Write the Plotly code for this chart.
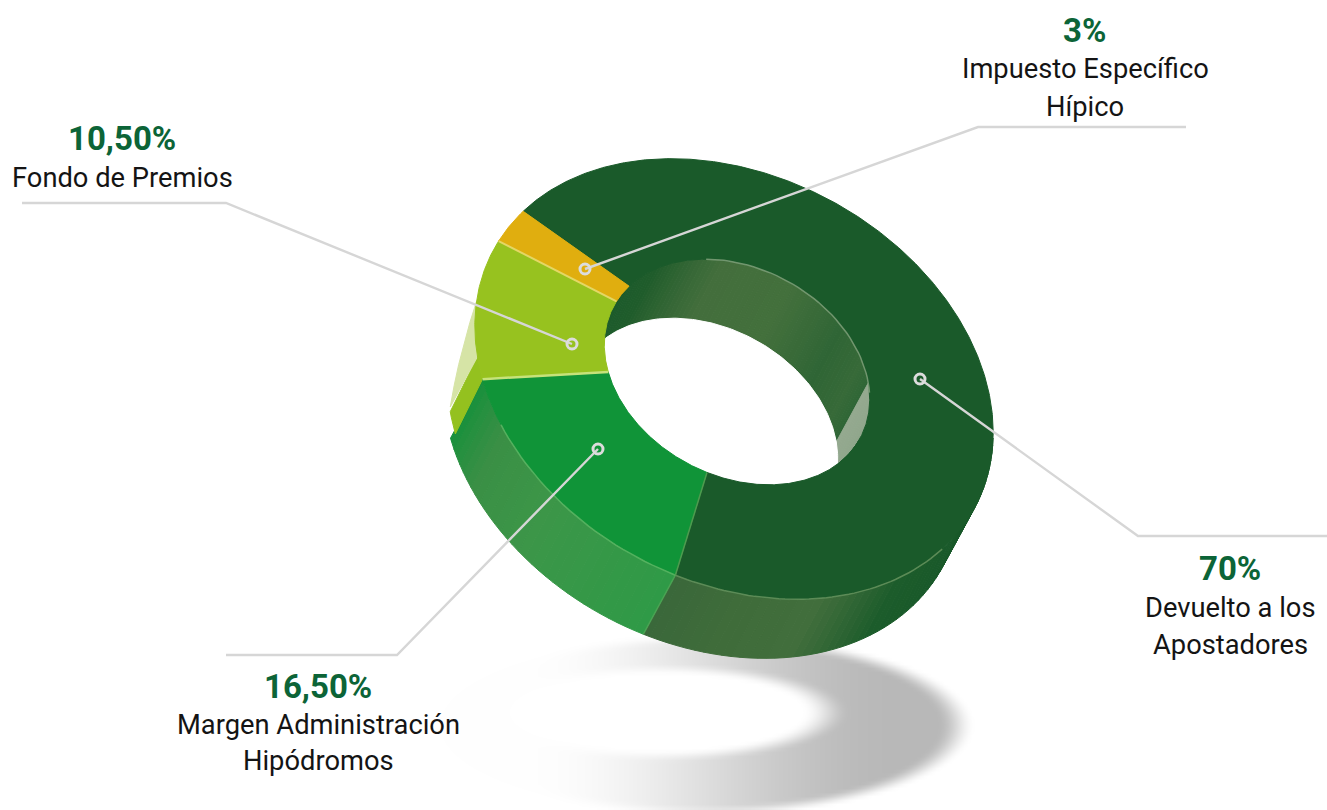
import numpy as np
import plotly.graph_objects as go

# ---- data ----
categories = ["Devuelto a los Apostadores", "Margen Administración Hipódromos",
              "Fondo de Premios", "Impuesto Específico Hípico"]
shares = [70, 16.5, 10.5, 3]
percent_labels = ["70%", "16,50%", "10,50%", "3%"]
label_lines = [["Devuelto a los", "Apostadores"], ["Margen Administración", "Hipódromos"],
               ["Fondo de Premios"], ["Impuesto Específico", "Hípico"]]
top_colors = ["#1a5a2a", "#109438", "#97c21f", "#e0ae0f"]

# ---- projection of the tilted ring onto the page ----
W, H = 1327, 810
CX, CY = 734, 379
A, B, PHI = 273, 203, np.radians(28)
ICX, ICY, IR = 737, 372, 0.512
DX, DY = -32, 59
START = -167.0
U = np.array([np.cos(PHI), np.sin(PHI)])
V = np.array([-np.sin(PHI), np.cos(PHI)])

def outer(t):
    t = np.radians(np.asarray(t, float))
    return (CX + A*np.cos(t)*U[0] + B*np.sin(t)*V[0], CY + A*np.cos(t)*U[1] + B*np.sin(t)*V[1])

def inner(t):
    t = np.radians(np.asarray(t, float))
    return (ICX + IR*A*np.cos(t)*U[0] + IR*B*np.sin(t)*V[0], ICY + IR*A*np.cos(t)*U[1] + IR*B*np.sin(t)*V[1])

def hexrgb(c):
    return [int(c[i:i+2], 16) for i in (1, 3, 5)]

def shade(t, stops):
    ts = [s[0] for s in stops]
    cs = np.array([hexrgb(s[1]) for s in stops], float)
    return "rgb(%d,%d,%d)" % tuple(np.round(np.interp(t, ts, cs[:, k])) for k in range(3))

# share boundaries, with a small foreshortening correction for the view's perspective
raw_edges = START + np.cumsum([0] + [s*3.6 for s in shares])
edges = raw_edges + np.interp(raw_edges, [-167, 85, 144.4, 182.2, 193], [1, -3.5, 0, 1, 1])
e_dark, e_green, e_lime, e_yellow = edges[1], edges[2], edges[3], edges[4]

fig = go.Figure()

def poly(x, y, color):
    x, y = list(x), list(y)
    fig.add_trace(go.Scatter(x=x+x[:1], y=y+y[:1], mode="lines", fill="toself", fillcolor=color,
                             line=dict(color=color, width=1), hoverinfo="skip", showlegend=False))

def stroke(x, y, color, width):
    fig.add_trace(go.Scatter(x=list(x), y=list(y), mode="lines", line=dict(color=color, width=width),
                             hoverinfo="skip", showlegend=False))

# ---- soft shadow ----
gx = np.arange(420, 1000, 4.0)
gy = np.arange(620, 811, 4.0)
XX, YY = np.meshgrid(gx, gy)
def smooth(v, a, b):
    s = np.clip((v-a)/(b-a), 0, 1)
    return s*s*(3-2*s)
ro = np.sqrt(((XX-700)/270)**2 + ((YY-725)/90)**2)
ri = np.sqrt(((XX-665)/148)**2 + ((YY-712)/40)**2)
ring = (1-smooth(ro, 0.88, 1.02)) * smooth(ri, 0.92, 1.25)
ramp = 0.02 + 0.98*smooth(XX, 530, 900)
fig.add_trace(go.Heatmap(x=gx, y=gy, z=ring*ramp, zmin=0, zmax=1, zsmooth="best", showscale=False,
                         colorscale=[[0, "#ffffff"], [1, "#b8b8b8"]], hoverinfo="skip"))

# ---- outer side ----
dark_side = [(-20, "#145427"), (28, "#1c5c2b"), (48, "#416e3c"), (65, "#3f6c3a"), (86, "#38663a")]
green_side = [(e_dark, "#2f9a47"), (112, "#3c9648"), (130, "#3a8f45"), (e_green, "#15903b")]
STEP = 2.0
for t in np.arange(-20, e_dark, STEP):
    x, y = outer([t, min(t+STEP, e_dark)])
    poly([x[0], x[1], x[1]+DX, x[0]+DX], [y[0], y[1], y[1]+DY, y[0]+DY], shade(t, dark_side))
for t in np.arange(e_dark, e_green, STEP):
    x, y = outer([t, min(t+STEP, e_green)])
    poly([x[0], x[1], x[1]+DX, x[0]+DX], [y[0], y[1], y[1]+DY, y[0]+DY], shade(t, green_side))
# lime side: solid band, then a pale panel that tapers away
cut = e_green + 0.15*(e_lime-e_green)
end = e_green + 0.53*(e_lime-e_green)
tt = np.linspace(e_green, cut, 5)
x, y = outer(tt)
poly(list(x)+list(x[::-1]+0.85*DX), list(y)+list(y[::-1]+0.93*DY), "#94c11f")
tt = np.linspace(cut, end, 6)
k = np.linspace(0.85, 0, 6)
x, y = outer(tt)
poly(list(x)+list((x+k*DX)[::-1]), list(y)+list((y+k*DY)[::-1]), "#d6e4a6")

# ---- inner wall ----
wall = [(-180, "#1a5a2a"), (-150, "#1f5c2b"), (-118, "#436e3c"), (-88, "#43703c"), (-60, "#2f6535"),
        (-42, "#376a38"), (-32, "#2f6636"), (-30, "#94a98f"), (0, "#8ea58a"), (2, "#1a5a2a"), (180, "#1a5a2a")]
for t in np.arange(-180, 180, STEP):
    x, y = inner([t, t+STEP])
    poly([x[0], x[1], x[1]+DX, x[0]+DX], [y[0], y[1], y[1]+DY, y[0]+DY], shade(t, wall))

# ---- see-through part of the hole ----
tt = np.arange(0, 360, 1.0)
hx, hy = inner(tt)
def inside(px, py, ox, oy):
    rx, ry = px-ICX-ox, py-ICY-oy
    return ((rx*U[0]+ry*U[1])/(IR*A))**2 + ((rx*V[0]+ry*V[1])/(IR*B))**2 <= 1
m1 = inside(hx, hy, DX, DY)
m2 = inside(hx+DX, hy+DY, 0, 0)
px = np.r_[hx[m1], (hx+DX)[m2]]
py = np.r_[hy[m1], (hy+DY)[m2]]
order = np.argsort(np.arctan2(py-py.mean(), px-px.mean()))
poly(px[order], py[order], "#ffffff")

# ---- top faces ----
for c, a, b in zip(top_colors, edges[:-1], edges[1:]):
    tt = np.linspace(a, b, int((b-a)*2)+2)
    ox, oy = outer(tt)
    ix, iy = inner(tt[::-1])
    poly(np.r_[ox, ix], np.r_[oy, iy], c)

# ---- rim highlights and seams ----
x, y = outer(np.linspace(15, e_dark, 50)); stroke(x, y, "rgba(120,160,105,0.7)", 1.5)
x, y = outer(np.linspace(e_dark, e_green-12, 30)); stroke(x, y, "rgba(110,190,110,0.7)", 1.5)
x, y = inner(np.linspace(-125, -25, 40)); stroke(x, y, "rgba(150,175,140,0.7)", 1.5)
def seam(t, color, width):
    ox, oy = outer(t); ix, iy = inner(t)
    stroke([ox, ix], [oy, iy], color, width)
seam(e_dark, "#4f9a4f", 1.5)
seam(e_green, "#c6e27a", 2.5)
seam(e_lime, "#e3d765", 2)
ox, oy = outer(e_dark)
stroke([ox, ox+DX], [oy, oy+DY], "rgba(90,170,90,0.6)", 1.5)

# ---- leader lines ----
leaders = [([920, 1138, 1327], [379, 536, 536]), ([598, 397, 226], [449, 655, 655]),
           ([572, 226, 22], [344, 203, 203]), ([585, 978, 1186], [269, 127, 127])]
for lx, ly in leaders:
    stroke(lx, ly, "#d6d6d6", 2.4)
    fig.add_trace(go.Scatter(x=lx[:1], y=ly[:1], mode="markers", hoverinfo="skip", showlegend=False,
                             marker=dict(size=10, color="rgba(255,255,255,0)", line=dict(color="#dcdcdc", width=3))))

# ---- labels ----
PCT = dict(family="Roboto", size=33, color="#0c6437", weight=700)
TXT = dict(family="Roboto", size=27.3, color="#141414")
pct_pos = [(1230, 568), (318, 686), (122, 138), (1084, 30)]
line_pos = [[(1230, 608), (1230, 645)], [(318, 725), (318, 761)], [(122, 178)], [(1085, 69), (1085, 107)]]
ann = []
for p, pos, lines, lpos in zip(percent_labels, pct_pos, label_lines, line_pos):
    ann.append(dict(x=pos[0], y=pos[1], text=p, font=PCT, showarrow=False, xanchor="center", yanchor="middle"))
    for s, q in zip(lines, lpos):
        ann.append(dict(x=q[0], y=q[1], text=s, font=TXT, showarrow=False, xanchor="center", yanchor="middle"))

fig.update_layout(width=W, height=H, margin=dict(l=0, r=0, t=0, b=0), showlegend=False,
                  paper_bgcolor="white", plot_bgcolor="white", annotations=ann,
                  xaxis=dict(range=[0, W], visible=False, fixedrange=True),
                  yaxis=dict(range=[H, 0], visible=False, fixedrange=True))
fig.write_html("out.html", config=dict(displayModeBar=False),
               post_script="document.body.style.margin='0';document.body.style.overflow='hidden';")
